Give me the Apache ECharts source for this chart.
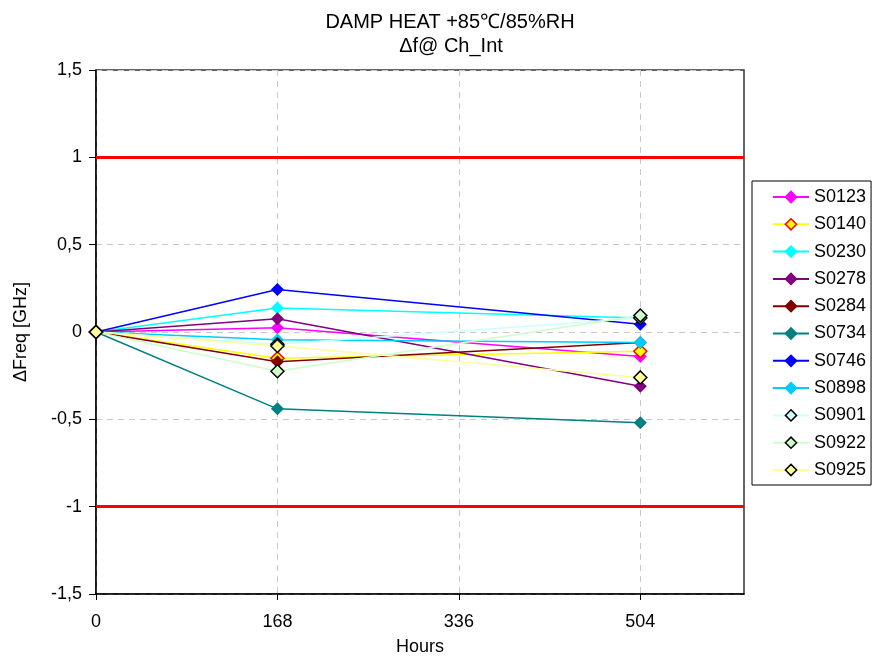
<!DOCTYPE html>
<html>
<head>
<meta charset="utf-8">
<script src="https://cdn.jsdelivr.net/npm/echarts@6/dist/echarts.min.js"></script>
<style>
  html, body { margin: 0; padding: 0; background: #fff; }
  #chart { width: 873px; height: 657px; }
</style>
</head>
<body>
<div id="chart"></div>
<script>
// hours at which the samples were measured
var hours = [0, 168, 336, 504];
var sampleNames = ['S0123', 'S0140', 'S0230', 'S0278', 'S0284', 'S0734', 'S0746', 'S0898', 'S0901', 'S0922', 'S0925'];

// delta freq [GHz] at 0, 168, 504 h
var measHours = [0, 168, 504];
var s0123 = [0, 0.025, -0.14];
var s0140 = [0, -0.15, -0.11];
var s0230 = [0, 0.138, 0.08];
var s0278 = [0, 0.076, -0.31];
var s0284 = [0, -0.17, -0.06];
var s0734 = [0, -0.44, -0.52];
var s0746 = [0, 0.243, 0.045];
var s0898 = [0, -0.045, -0.06];
var s0901 = [0, -0.07, 0.08];
var s0922 = [0, -0.225, 0.094];
var s0925 = [0, -0.08, -0.26];

var limits = [1, -1];
var yTicks = [-1.5, -1, -0.5, 0, 0.5, 1, 1.5];

var allValues = [s0123, s0140, s0230, s0278, s0284, s0734, s0746, s0898, s0901, s0922, s0925];
// line colour, marker fill, marker border
var styles = [
  ['#FF00FF', '#FF00FF', '#FF00FF'],
  ['#FFFF00', '#FFFF00', '#FF0000'],
  ['#00FFFF', '#00FFFF', '#00FFFF'],
  ['#800080', '#800080', '#800080'],
  ['#800000', '#800000', '#800000'],
  ['#008080', '#008080', '#008080'],
  ['#0000FF', '#0000FF', '#0000FF'],
  ['#00CCFF', '#00CCFF', '#00CCFF'],
  ['#CCFFFF', '#CCFFFF', '#000000'],
  ['#CCFFCC', '#CCFFCC', '#000000'],
  ['#FFFF99', '#FFFF99', '#000000']
];

var font = 'Liberation Sans, Arial, sans-serif';
var myChart = echarts.init(document.getElementById('chart'));

var series = [];
for (var i = 0; i < sampleNames.length; i++) {
  var pts = [];
  for (var j = 0; j < measHours.length; j++) pts.push([measHours[j], allValues[i][j]]);
  var s = {
    name: sampleNames[i],
    type: 'line',
    data: pts,
    symbol: 'diamond',
    symbolSize: 13,
    showAllSymbol: true,
    animation: false,
    lineStyle: { color: styles[i][0], width: 1.5 },
    itemStyle: { color: styles[i][1], borderColor: styles[i][2], borderWidth: styles[i][2] === styles[i][1] ? 0 : 1.5 }
  };
  if (i === 0) {
    s.markLine = {
      silent: true,
      symbol: 'none',
      label: { show: false },
      lineStyle: { color: '#FF0000', width: 3, type: 'solid' },
      data: limits.map(function (v) { return { yAxis: v }; })
    };
  }
  series.push(s);
}

var option = {
  backgroundColor: '#fff',
  animation: false,
  textStyle: { fontFamily: font },
  graphic: [
    { type: 'text', x: 450, y: 22, style: { text: 'DAMP HEAT +85\u2103/85%RH', font: '20px ' + font, fill: '#000', align: 'center', verticalAlign: 'middle' } },
    { type: 'text', x: 451, y: 46, style: { text: '\u0394f@ Ch_Int', font: '20px ' + font, fill: '#000', align: 'center', verticalAlign: 'middle' } }
  ],
  grid: {
    left: 96, right: 129, top: 70, bottom: 63,
    outerBoundsMode: 'none',
    show: true, borderColor: '#333', borderWidth: 1.5, backgroundColor: 'transparent'
  },
  legend: {
    orient: 'vertical',
    left: 752, top: 181,
    padding: [7, 5, 6, 20],
    backgroundColor: '#fff',
    borderColor: '#000',
    borderWidth: 1,
    itemWidth: 36, itemHeight: 14,
    itemGap: 9.3,
    itemStyle: { borderWidth: 1.5 },
    textStyle: { fontSize: 18, color: '#000', fontFamily: font },
    data: sampleNames
  },
  xAxis: {
    type: 'value',
    min: 0, max: 600, interval: 168,
    name: 'Hours', nameLocation: 'middle', nameGap: 44,
    nameTextStyle: { fontSize: 18, color: '#000' },
    axisLine: { onZero: false, lineStyle: { color: '#000', width: 1.5 } },
    axisTick: { show: true, length: 6, lineStyle: { color: '#000' }, customValues: hours },
    axisLabel: { fontSize: 18, color: '#000', margin: 19, customValues: hours },
    splitLine: { show: true, lineStyle: { color: '#C8C8C8', type: [6, 5], width: 1 } }
  },
  yAxis: {
    type: 'value',
    min: -1.5, max: 1.5, interval: 0.5,
    name: '\u0394Freq [GHz]', nameLocation: 'middle', nameGap: 66,
    nameTextStyle: { fontSize: 18, color: '#000' },
    axisLine: { show: true, lineStyle: { color: '#000', width: 1.5 } },
    axisTick: { show: true, length: 7, lineStyle: { color: '#000' } },
    axisLabel: {
      fontSize: 18, color: '#000', margin: 14, customValues: yTicks,
      formatter: function (v) { return String(v).replace('.', ','); }
    },
    splitLine: { show: true, lineStyle: { color: '#C8C8C8', type: [6, 5], width: 1 } }
  },
  series: series
};

myChart.setOption(option, true);
</script>
</body>
</html>
